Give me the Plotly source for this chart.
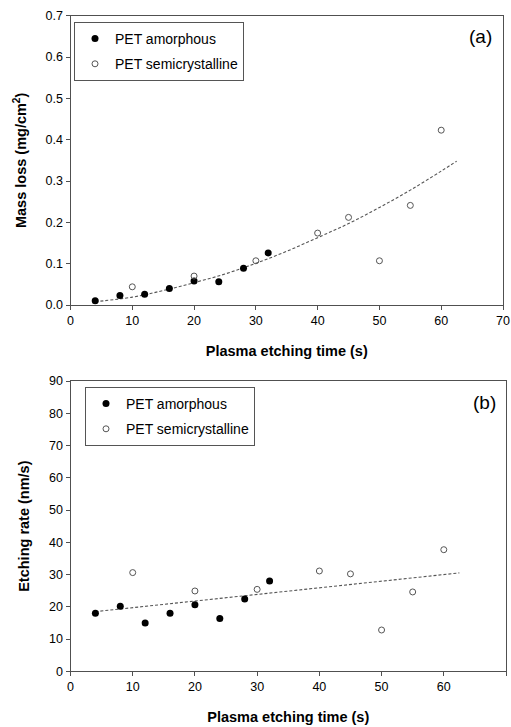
import plotly.graph_objects as go

# ---- data ----
amorph_time = [4, 8, 12, 16, 20, 24, 28, 32]
amorph_mass = [0.010, 0.023, 0.026, 0.040, 0.058, 0.056, 0.089, 0.126]
amorph_rate = [18.0, 20.2, 15.0, 18.0, 20.6, 16.4, 22.4, 28.0]

semi_time = [10, 20, 30, 40, 45, 50, 55, 60]
semi_mass = [0.044, 0.070, 0.107, 0.174, 0.212, 0.107, 0.241, 0.423]
semi_rate = [30.6, 24.9, 25.4, 31.1, 30.2, 12.8, 24.6, 37.7]

# trend lines
trend_a_time = [4, 10, 15, 20, 25, 30, 35, 40, 45, 50, 55, 60, 62.5]
trend_a_mass = [0.008, 0.019, 0.035, 0.054, 0.075, 0.101, 0.130, 0.163, 0.197, 0.236, 0.278, 0.324, 0.348]
trend_b_time = [4, 62.5]
trend_b_rate = [18.5, 30.5]

x_ticks = [0, 10, 20, 30, 40, 50, 60, 70]

FONT = "Liberation Sans, Arial, sans-serif"
AXC = "#505050"

fig = go.Figure()

filled = dict(symbol="circle", size=7, color="black", line=dict(width=0))
hollow = dict(symbol="circle-open", size=6, color="#555555", line=dict(width=1))
trend = dict(color="#555555", width=1.1, dash="3px,2px")

# panel (a)
fig.add_trace(go.Scatter(x=trend_a_time, y=trend_a_mass, mode="lines", line=dict(shape="spline", **trend),
                         showlegend=False, xaxis="x", yaxis="y"))
fig.add_trace(go.Scatter(x=amorph_time, y=amorph_mass, mode="markers", marker=filled,
                         name="PET amorphous", legendgroup="a1", legend="legend", xaxis="x", yaxis="y"))
fig.add_trace(go.Scatter(x=semi_time, y=semi_mass, mode="markers", marker=hollow,
                         name="PET semicrystalline", legendgroup="a2", legend="legend", xaxis="x", yaxis="y"))
# panel (b)
fig.add_trace(go.Scatter(x=trend_b_time, y=trend_b_rate, mode="lines", line=trend,
                         showlegend=False, xaxis="x2", yaxis="y2"))
fig.add_trace(go.Scatter(x=amorph_time, y=amorph_rate, mode="markers", marker=filled,
                         name="PET amorphous", legendgroup="b1", legend="legend2", xaxis="x2", yaxis="y2"))
fig.add_trace(go.Scatter(x=semi_time, y=semi_rate, mode="markers", marker=hollow,
                         name="PET semicrystalline", legendgroup="b2", legend="legend2", xaxis="x2", yaxis="y2"))

W, H = 511, 727

def px_x(p):
    return p / W

def px_y(p):
    return 1 - p / H

common_axis = dict(showline=True, linecolor=AXC, linewidth=1, mirror=True, ticks="outside",
                   ticklen=4, tickcolor=AXC, showgrid=False, zeroline=False, automargin=False,
                   tickfont=dict(family=FONT, size=12.5, color="black"))
title_font = dict(family=FONT, size=14.5, color="black", weight="bold")

legend_common = dict(xanchor="left", yanchor="top", bgcolor="white", bordercolor="#555555",
                     borderwidth=1, font=dict(family=FONT, size=14, color="black"),
                     tracegroupgap=4, itemwidth=30)

fig.update_layout(
    width=W, height=H, margin=dict(l=0, r=0, t=0, b=0, autoexpand=False),
    paper_bgcolor="white", plot_bgcolor="white",
    xaxis=dict(domain=[px_x(70.5), px_x(503)], range=[0, 70], tickvals=x_ticks, anchor="y",
               title=dict(text="Plasma etching time (s)", font=title_font, standoff=18), **common_axis),
    yaxis=dict(domain=[px_y(305), px_y(15.7)], range=[0, 0.7], dtick=0.1, tickformat=".1f", anchor="x",
               title=dict(text="Mass loss (mg/cm<sup>2</sup>)", font=title_font, standoff=15), **common_axis),
    xaxis2=dict(domain=[px_x(70.5), px_x(506)], range=[0, 70], tickvals=x_ticks, anchor="y2",
                title=dict(text="Plasma etching time (s)", font=title_font, standoff=18), **common_axis),
    yaxis2=dict(domain=[px_y(671.3), px_y(381)], range=[0, 90], dtick=10, anchor="x2",
                title=dict(text="Etching rate (nm/s)", font=title_font, standoff=16), **common_axis),
    legend=dict(x=px_x(74), y=px_y(22), **legend_common),
    legend2=dict(x=px_x(85), y=px_y(387), **legend_common),
    annotations=[
        dict(text="(a)", x=px_x(494), y=px_y(37), xref="paper", yref="paper", xanchor="right",
             yanchor="middle", showarrow=False, font=dict(family=FONT, size=19, color="black")),
        dict(text="(b)", x=px_x(498), y=px_y(402), xref="paper", yref="paper", xanchor="right",
             yanchor="middle", showarrow=False, font=dict(family=FONT, size=19, color="black")),
    ],
)

fig.write_html("out.html", config={"displayModeBar": False},
               post_script="document.body.style.margin='0';document.body.style.overflow='hidden';")
